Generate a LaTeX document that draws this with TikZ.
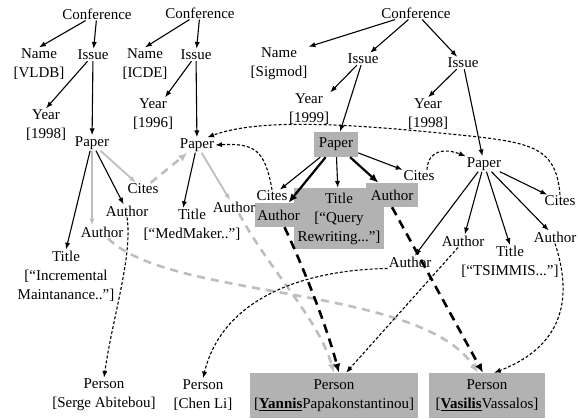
\documentclass[tikz,border=0pt]{standalone}
\usepackage{fontspec}
\setmainfont{Liberation Serif}
\usepackage{tikz}
\usetikzlibrary{arrows.meta,positioning,calc}
\usepackage{xcolor}
\definecolor{boxgray}{RGB}{178,178,178}
\definecolor{linegray}{RGB}{190,190,190}
\tikzset{
  attr/.style     = {align=center, inner sep=1pt, font=\fontsize{15}{19}\selectfont},
  hl/.style       = {attr, fill=boxgray, inner sep=0pt},
  link/.style     = {-{Latex[length=2.4mm,width=1.8mm]}, line width=1.1pt},
  boldlink/.style = {-{Latex[length=3.2mm,width=2.6mm]}, line width=2.2pt},
  greylink/.style = {link, draw=linegray, line width=1.8pt},
  reflink/.style  = {link, dash pattern=on 3pt off 2pt},
  boldref/.style  = {boldlink, line width=2.6pt, dash pattern=on 9pt off 6pt},
  greyref/.style  = {boldlink, draw=linegray, line width=2.6pt,
                     dash pattern=on 8pt off 6pt},
}

\begin{document}
\begin{tikzpicture}[x=1pt, y=-1pt]
\useasboundingbox (0,0) rectangle (578,418);
% highlighted part of the graph
\node[hl, minimum width=44pt, minimum height=25pt] (paper3) at (336,144.5) {Paper};
\node[hl, minimum width=90pt, minimum height=61pt] (title3) at (339,218.5) {Title\\{[“Query}\\Rewriting...”]};
\node[hl, minimum width=47pt, minimum height=24pt] (author3a) at (278.5,215) {Author};
\node[hl, minimum width=52pt, minimum height=24pt] (author3b) at (392,195) {Author};
\node[hl, minimum width=168pt, minimum height=45pt] (person3) at (334,395.5) {Person\\{[\underline{\textbf{Yannis}}Papakonstantinou]}};
\node[hl, minimum width=116pt, minimum height=45pt] (person4) at (487,395.5) {Person\\{[\underline{\textbf{Vasilis}}Vassalos]}};
% first conference
\node[attr] (conf1)    at (97,14)   {Conference};
\node[attr] (name1)    at (39,64)   {Name\\{[VLDB]}};
\node[attr] (issue1)   at (93,55)   {Issue};
\node[attr] (year1)    at (46,125)  {Year\\{[1998]}};
\node[attr] (paper1)   at (92,143)  {Paper};
\node[attr] (cites1)   at (143,189) {Cites};
\node[attr] (author1a) at (127,211) {Author};
\node[attr] (author1b) at (102,232) {Author};
\node[attr] (title1)   at (66,276)  {Title\\{[“Incremental}\\Maintanance..”]};
% second conference
\node[attr] (conf2)    at (200,13)  {Conference};
\node[attr] (name2)    at (145,64)  {Name\\{[ICDE]}};
\node[attr] (issue2)   at (196,55)  {Issue};
\node[attr] (year2)    at (153,114) {Year\\{[1996]}};
\node[attr] (paper2)   at (197,145) {Paper};
\node[attr] (title2)   at (192,225) {Title\\{[“MedMaker..”]}};
\node[attr] (author2)  at (234,207) {Author};
% third conference
\node[attr] (conf3)    at (416,13)  {Conference};
\node[attr] (name3)    at (279,64)  {Name\\{[Sigmod]}};
\node[attr] (issue3)   at (363,59)  {Issue};
\node[attr] (year3)    at (309,109) {Year\\{[1999]}};
\node[attr] (cites3a)  at (272,196) {Cites};
\node[attr] (cites3b)  at (419,176) {Cites};
\node[attr] (issue4)   at (463,63)  {Issue};
\node[attr] (year4)    at (428,114) {Year\\{[1998]}};
\node[attr] (paper4)   at (484,164) {Paper};
\node[attr] (cites4)   at (560,201) {Cites};
\node[attr] (author4a) at (555,237) {Author};
\node[attr] (title4)   at (510,262) {Title\\{[“TSIMMIS...”]}};
\node[attr] (author4b) at (463,241) {Author};
\node[attr] (author4c) at (410,262) {Author};
% people
\node[attr] (person1)  at (104,395) {Person\\{[Serge Abitebou]}};
\node[attr] (person2)  at (203,395) {Person\\{[Chen Li]}};
% tree edges
\foreach \a/\b in {conf1/name1.north, conf1/issue1, issue1/year1.north, issue1/paper1,
                   paper1/title1.north, paper1/author1a, conf2/name2.north, conf2/issue2,
                   issue2/paper2, conf3/name3.north east, conf3/issue3, conf3/issue4,
                   issue3/year3.north east, issue3/paper3, issue4/year4.north, issue4/paper4,
                   paper3/cites3a, paper3/title3, paper3/cites3b, paper4/author4c,
                   paper4/author4b, paper4/title4.north, paper4/author4a, paper4/cites4}
  \draw[link] (\a) -- (\b);
\draw[link] (issue2) -- ([xshift=12pt]year2.north);
\draw[link] (paper2) -- ([xshift=-9pt]title2.north);
\draw[greylink] (paper1) -- (cites1);
\draw[greylink] (paper1.south) -- (paper1.south |- author1b.north);
\draw[greylink] (paper2) -- (author2);
\draw[boldlink] (paper3) -- (author3a);
\draw[boldlink] (paper3) -- (author3b);
% references
\draw[greyref] (cites1) -- (paper2);
\draw[reflink] (cites3a.north) .. controls (265,150) and (255,143) .. (paper2.east);
\draw[reflink] (cites4.north) .. controls (556,145) and (530,142) .. (450,134)
  .. controls (350,124) and (260,118) .. ([xshift=-8pt]paper2.north east);
\draw[reflink] ([xshift=8pt]cites3b.north) .. controls (428,150) and (445,148) .. (paper4.north west);
\draw[reflink] (author1a.south) .. controls (133,255) and (112,320) .. (person1.north);
\draw[greyref] ([xshift=6pt]author1b.south) .. controls (170,300) and (420,285) .. ([xshift=-9pt]person4.north);
\draw[greyref] ([xshift=5pt]author2.south) .. controls (268,268) and (318,318) .. (person3.north);
\draw[boldref] ([xshift=6pt]author3a.south) .. controls (300,260) and (325,320) .. ([xshift=5pt]person3.north);
\draw[boldref] (author3b.south) -- ([xshift=-4pt]person4.north);
\draw[reflink] ([xshift=-5pt]author4b.south) -- ([xshift=12pt]person3.north);
\draw[reflink] (author4c.south west) .. controls (300,270) and (222,300) .. (person2.north);
\draw[reflink] (author4a.south) .. controls (572,295) and (566,345) .. ([xshift=7pt]person4.north);
\end{tikzpicture}
\end{document}
